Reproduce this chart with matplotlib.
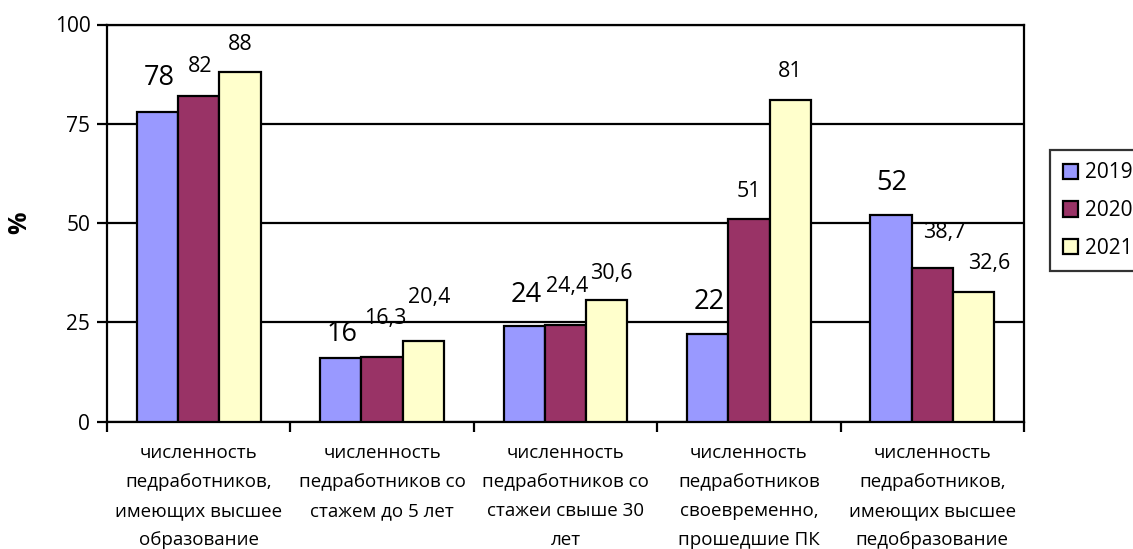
import numpy as np
import matplotlib
matplotlib.use("Agg")
from matplotlib import pyplot as plt

categories = [
    "численность\nпедработников,\nимеющих высшее\nобразование",
    "численность\nпедработников со\nстажем до 5 лет",
    "численность\nпедработников со\nстажеи свыше 30\nлет",
    "численность\nпедработников\nсвоевременно,\nпрошедшие ПК",
    "численность\nпедработников,\nимеющих высшее\nпедобразование",
]
years = ["2019", "2020", "2021"]
v2019 = [78, 16, 24, 22, 52]
v2020 = [82, 16.3, 24.4, 51, 38.7]
v2021 = [88, 20.4, 30.6, 81, 32.6]

colors = ["#9999FF", "#993366", "#FFFFCC"]
big = [True, False, False]  # 2019 labels drawn larger
# label nudges (pixels: dx right, dy above bar top), per series per category
nudges = [
    [(2, 34), (1, 24), (2, 31), (1.5, 32), (1, 32)],
    [(1, 29), (3, 38), (1.5, 38), (0, 27.5), (12, 35)],
    [(0, 28), (5.6, 43), (5, 27), (0, 28), (15.6, 29)],
]

plt.rcParams['font.family'] = ['Open Sans', 'DejaVu Sans']
fig = plt.figure(figsize=(11.33, 5.49), dpi=100)
ax = fig.add_axes([107/1133, 1-421.5/549, (1024-107)/1133, (421.5-24.5)/549])

series = [v2019, v2020, v2021]
x = np.arange(len(categories))
w = 0.2247
px2pt = 0.72
for j, vals in enumerate(series):
    xs = x + (j-1)*w
    ax.bar(xs, vals, w, color=colors[j], edgecolor="black", linewidth=1.6,
           label=years[j], zorder=3)
    for k, v in enumerate(vals):
        dx, dy = nudges[j][k]
        txt = ("%g" % v).replace(".", ",")
        ax.annotate(txt, (xs[k], v), xytext=(dx*px2pt, dy*px2pt),
                    textcoords="offset points", ha="center", va="center",
                    fontsize=19.5 if big[j] else 15.5, zorder=4)

ax.set_xlim(-0.5, len(categories)-0.5)
ax.set_ylim(0, 100)
ax.set_yticks([0, 25, 50, 75, 100])
ax.tick_params(axis="y", direction="out", length=7, width=1.6, labelsize=15, pad=5)
ax.yaxis.grid(True, color="black", linewidth=1.6, zorder=0)
ax.set_xticks(np.arange(len(categories)+1)-0.5)
ax.set_xticklabels([])
ax.set_xticks(x, minor=True)
ax.set_xticklabels(categories, minor=True, fontsize=13.5, linespacing=1.8)
ax.tick_params(axis="x", which="major", direction="out", length=7, width=1.6)
ax.tick_params(axis="x", which="minor", length=0, pad=16)
for s in ax.spines.values():
    s.set_linewidth(1.6)
ax.set_ylabel("%", fontsize=18, fontweight="bold")
ax.yaxis.set_label_coords(-0.082, 0.5)

leg = fig.legend(loc="upper left", bbox_to_anchor=(1050/1133, 1-150/549),
                 fontsize=15, frameon=True, fancybox=False, edgecolor="black",
                 handlelength=0.75, handleheight=0.75, handletextpad=0.35,
                 labelspacing=0.8, borderpad=0.6, borderaxespad=0)
leg.get_frame().set_linewidth(1.6)

fig.savefig("out.png", dpi=100)
